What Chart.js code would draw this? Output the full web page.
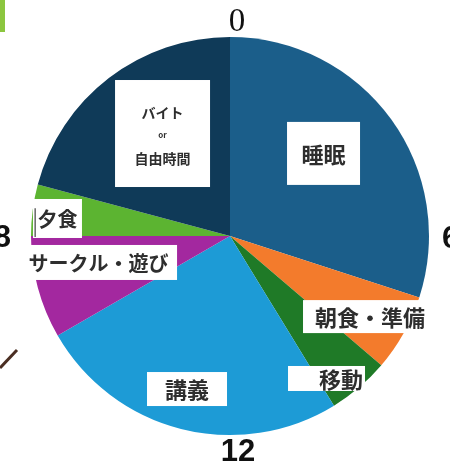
<!DOCTYPE html>
<html>
<head>
<meta charset="utf-8">
<script src="https://cdn.jsdelivr.net/npm/chart.js@4"></script>
<style>
  html, body { margin: 0; padding: 0; background: #fff; }
  canvas { display: block; }
</style>
</head>
<body>
<canvas id="dayChart" width="450" height="466"></canvas>
<script>
// 一日の時間配分 (時間)
const activities = ['睡眠', '朝食・準備', '移動', '講義', 'サークル・遊び', '夕食', 'バイト or 自由時間'];
const hours = [7.2, 1.5, 1.2, 6.1, 2, 1, 5];
const hourTicks = ['0', '6', '12', '18'];

const colors = ['#1b5e8a', '#f37b2c', '#1f7a27', '#1d9bd6', '#a3289f', '#5cb431', '#0f3a58'];

// ラベルの箱 (中心からのずれ, 半径比)
const labelBoxes = [
    { dx: 0.470, dy: -0.415, w: 73, h: 63, lines: [['睡眠', 22]] },
    { dx: 0.686, dy: 0.405, w: 127, h: 33, tx: 0.704, lines: [['朝食・準備', 22]] },
    { dx: 0.485, dy: 0.716, w: 77, h: 25, tx: 0.558, lines: [['移動', 22]] },
    { dx: -0.216, dy: 0.769, w: 80, h: 34, lines: [['講義', 22]] },
    { dx: -0.648, dy: 0.133, w: 152, h: 35, tx: -0.661, lines: [['サークル・遊び', 20]] },
    { dx: -0.867, dy: -0.088, w: 49, h: 39, lines: [['夕食', 20]] },
    { dx: -0.339, dy: -0.515, w: 95, h: 107, lines: [['バイト', 14, -22], ['or', 8, 0], ['自由時間', 14, 24]] }
];

const labelPlugin = {
    id: 'labelPlugin',
    afterDatasetsDraw(chart) {
        const ctx = chart.ctx;
        const arc = chart.getDatasetMeta(0).data[0];
        const cx = arc.x, cy = arc.y, r = arc.outerRadius;
        ctx.save();
        labelBoxes.forEach(b => {
            const bx = cx + b.dx * r, by = cy + b.dy * r;
            ctx.fillStyle = '#ffffff';
            ctx.fillRect(bx - b.w / 2, by - b.h / 2, b.w, b.h);
            const tx = b.tx !== undefined ? cx + b.tx * r : bx;
            b.lines.forEach(([txt, size, off]) => {
                ctx.fillStyle = '#2e2e2e';
                ctx.font = 'bold ' + size + 'px "Noto Sans CJK JP", sans-serif';
                ctx.textAlign = 'center';
                ctx.textBaseline = 'middle';
                ctx.fillText(txt, tx, by + (off || 0) + 1);
            });
        });
        // 夕食の箱の左線
        ctx.strokeStyle = '#666';
        ctx.lineWidth = 1.5;
        ctx.beginPath();
        ctx.moveTo(cx - 0.979 * r, cy - 0.14 * r);
        ctx.lineTo(cx - 0.979 * r, cy + 0.005 * r);
        ctx.stroke();

        // 時刻
        ctx.fillStyle = '#111';
        ctx.textBaseline = 'middle';
        ctx.font = '33px "Liberation Serif", serif';
        ctx.textAlign = 'center';
        ctx.fillText(hourTicks[0], cx + 7, cy - r - 15);
        ctx.font = 'bold 31px "Liberation Sans", sans-serif';
        ctx.textAlign = 'left';
        ctx.fillText(hourTicks[1], cx + r + 13, cy + 3);
        ctx.textAlign = 'center';
        ctx.fillText(hourTicks[2], cx + 8, cy + r + 17);
        ctx.textAlign = 'right';
        ctx.fillText(hourTicks[3], cx - r - 20, cy + 2);

        // 周りの切れ端
        ctx.fillStyle = '#8cc63f';
        ctx.fillRect(0, 0, 5, 32);
        ctx.strokeStyle = '#4a2e22';
        ctx.lineWidth = 3;
        ctx.beginPath();
        ctx.moveTo(0, 368);
        ctx.lineTo(17, 350);
        ctx.stroke();
        ctx.restore();
    }
};

new Chart(document.getElementById('dayChart'), {
    type: 'pie',
    data: {
        labels: activities,
        datasets: [{
            data: hours,
            backgroundColor: colors,
            borderWidth: 0,
            hoverOffset: 0
        }]
    },
    options: {
        responsive: false,
        devicePixelRatio: 1,
        animation: false,
        rotation: 0,
        layout: { padding: { left: 31, top: 37, right: 21, bottom: 31 } },
        plugins: {
            legend: { display: false },
            tooltip: { enabled: false }
        }
    },
    plugins: [labelPlugin]
});
</script>
</body>
</html>
